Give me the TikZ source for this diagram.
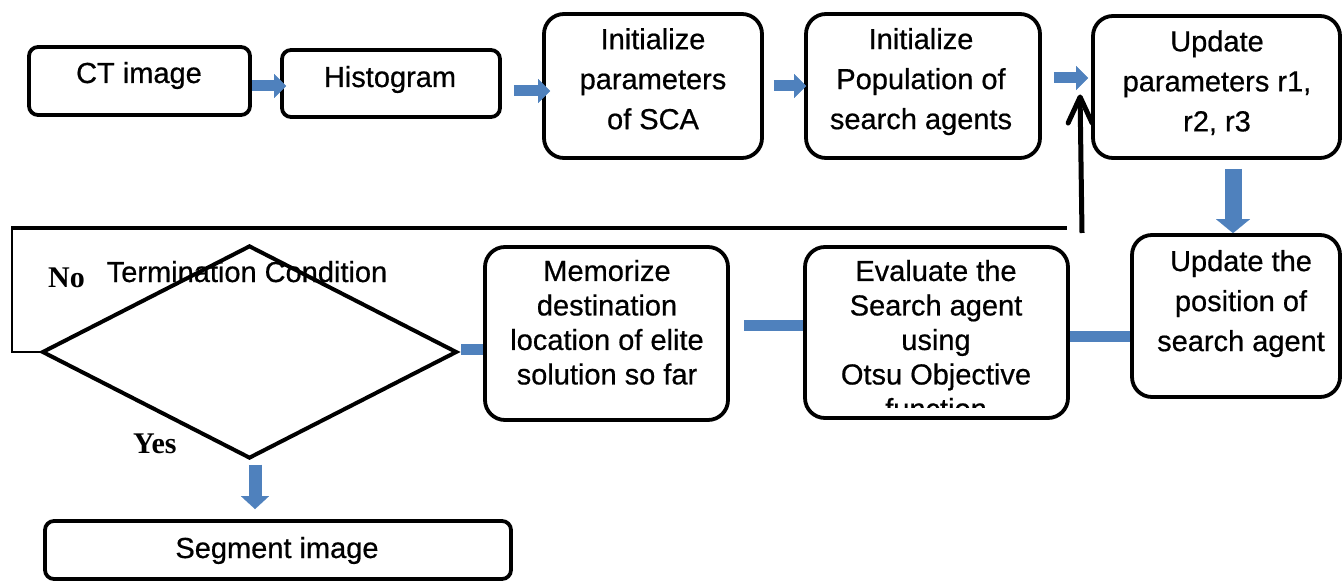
\documentclass[tikz,border=0pt]{standalone}
\usepackage{fontspec}
\setmainfont{Liberation Sans}[FakeBold=0.6]
\newfontfamily\timesfont{Liberation Serif}
\usetikzlibrary{arrows.meta,shapes.geometric}
\definecolor{arrowblue}{RGB}{79,129,189}
\begin{document}
\begin{tikzpicture}[x=1pt,y=-1pt,
  box/.style={draw=black, line width=3.8pt, rounded corners=20pt, inner sep=0pt},
  smallbox/.style={box, rounded corners=9pt},
  txt/.style={font=\fontsize{29}{40}\selectfont, align=center, inner sep=0pt},
  txtb/.style={font=\fontsize{29}{34.5}\selectfont, align=center, inner sep=0pt},
  barrow/.style={draw=arrowblue, line width=11pt, -{Triangle[length=12pt,width=24pt,line width=0.1pt]}},
  vbarrow/.style={draw=arrowblue, line width=17pt, -{Triangle[length=14pt,width=34pt,line width=0.1pt]}},
  vbarrowsmall/.style={draw=arrowblue, line width=13pt, -{Triangle[length=13pt,width=28pt,line width=0.1pt]}},
  bbar/.style={draw=arrowblue, line width=11pt},
  lbl/.style={font=\timesfont\bfseries\fontsize{30}{36}\selectfont, inner sep=0pt},
  loopthin/.style={draw=black, line width=2pt},
  loopthick/.style={draw=black, line width=4.5pt},
  upline/.style={draw=black, line width=5pt},
  uphead/.style={draw=black, line width=5pt, line join=round, line cap=round}
]
\useasboundingbox (0,0) rectangle (1343,583);

% boxes
\node[smallbox, minimum width=221pt, minimum height=68pt] (ct) at (139.5,81) {};
\node[smallbox, minimum width=218pt, minimum height=67pt] (hist) at (391,83.5) {};
\node[box, minimum width=218pt, minimum height=144pt] (sca) at (653,86) {};
\node[box, minimum width=234pt, minimum height=144pt] (pop) at (923,86) {};
\node[box, minimum width=247pt, minimum height=142pt] (upd) at (1216.5,87) {};
\node[box, minimum width=208pt, minimum height=162pt] (pos) at (1236,316) {};
\node[box, minimum width=263pt, minimum height=171pt] (eval) at (936.5,332.5) {};
\node[box, minimum width=243pt, minimum height=173pt] (mem) at (606.5,333.5) {};
\node[draw=black, line width=4pt, diamond, minimum width=415pt, minimum height=213pt, inner sep=0pt] (dec) at (249.5,352) {};
\node[smallbox, minimum width=466pt, minimum height=58pt] (seg) at (278,550) {};

% texts
\node[txt, anchor=base] (ctt) at (139,83) {CT image};
\node[txt, anchor=base] (histt) at (390,87) {Histogram};
\node[txt] (scat) at (653,78.8) {Initialize\\parameters\\of SCA};
\node[txt] (popt) at (921,81.6) {Initialize\\Population of\\search agents};
\node[txt] (updt) at (1217,82.7) {Update\\parameters r1,\\r2, r3};
\node[txt] (post) at (1241,303.6) {Update the\\position of\\search agent};
\node[txtb] (memt) at (607,322.3) {Memorize\\destination\\location of elite\\solution so far};
\begin{scope}
  \clip (806,250) rectangle (1066,407);
  \node[txtb] (evalt) at (936,339.6) {Evaluate the\\Search agent\\using\\Otsu Objective\\function};
\end{scope}
\node[txt, anchor=base] (dect) at (247,282) {Termination Condition};
\node[txt, anchor=base] (segt) at (277,558) {Segment image};
\node[lbl, anchor=base west] (no) at (48,287) {No};
\node[lbl, anchor=base west] (yes) at (133,453) {Yes};

% blue connectors
\draw[barrow] ([yshift=-5pt]ct.east) -- ([xshift=6pt,yshift=-2.5pt]hist.west);
\draw[barrow] ([xshift=12pt,yshift=-7.5pt]hist.east) -- ([xshift=8pt,yshift=-5pt]sca.west);
\draw[barrow] ([xshift=10pt]sca.east) -- ([xshift=2pt]pop.west);
\draw[barrow] ([xshift=12pt,yshift=8pt]pop.east) -- ([xshift=-3pt,yshift=9pt]upd.west);
\draw[vbarrow] ([xshift=16.5pt,yshift=-9pt]upd.south) -- ([xshift=-3pt]pos.north);
\draw[bbar] ([yshift=-20pt]pos.west) -- ([yshift=-3.5pt]eval.east);
\draw[bbar] ([yshift=7.5pt]eval.west) -- ([xshift=14pt,yshift=8.5pt]mem.east);
\draw[bbar] ([yshift=-15.5pt]mem.west) -- ([xshift=2pt,yshift=3pt]dec.east);
\draw[vbarrowsmall] ([xshift=5.5pt,yshift=-4pt]dec.south) -- ([xshift=-23pt,yshift=10pt]seg.north);

% loop back (No)
\coordinate (lc1) at (12,352);
\coordinate (lc2) at (12,228);
\coordinate (lc3) at (1067,228);
\coordinate (upfoot) at (1082,233);
\coordinate (uptip) at ([xshift=-11pt,yshift=-10pt]upd.west);
\draw[loopthin] (dec.west) -- (lc1) -- (lc2);
\draw[loopthick] ([xshift=-1pt]lc2) -- (lc3);
\draw[upline] (upfoot) -- ([yshift=-3pt]uptip);
\draw[uphead] (uptip) ++(-12,26) -- (uptip) -- ++(12,26);
\end{tikzpicture}
\end{document}
